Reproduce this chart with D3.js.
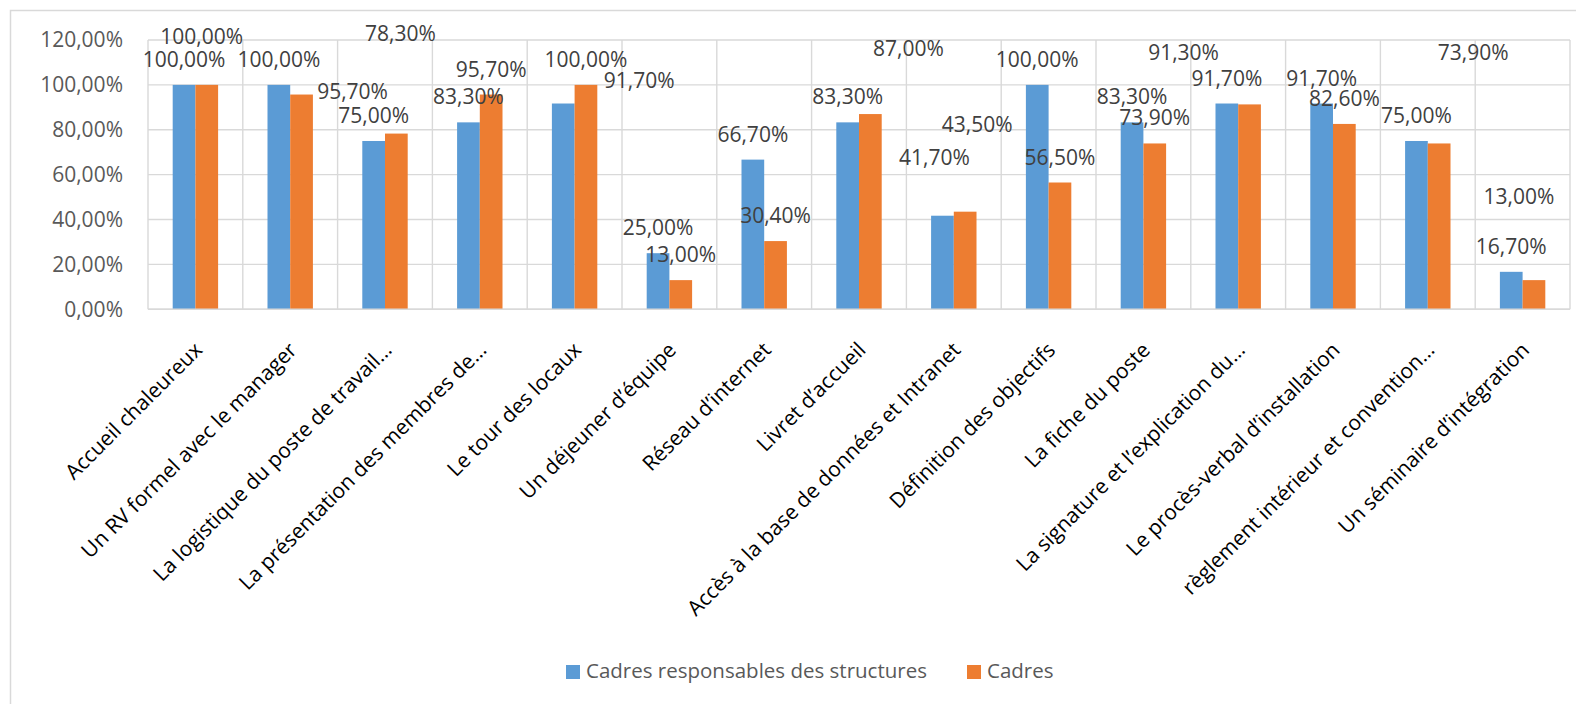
<!DOCTYPE html>
<html>
<head>
<meta charset="utf-8">
<script src="https://cdn.jsdelivr.net/npm/d3@7/dist/d3.min.js"></script>
<style>
  html, body { margin: 0; padding: 0; background: #ffffff; }
  svg { display: block; }
</style>
</head>
<body>
<svg id="chart" width="1576" height="704"></svg>
<script>
// ---------- DATA ----------
const categories = [
  "Accueil chaleureux",
  "Un RV formel avec le manager",
  "La logistique du poste de travail…",
  "La présentation des membres de…",
  "Le tour des locaux",
  "Un déjeuner d’équipe",
  "Réseau d’internet",
  "Livret d’accueil",
  "Accès à la base de données et Intranet",
  "Définition des objectifs",
  "La fiche du poste",
  "La signature et l’explication du…",
  "Le procès-verbal d’installation",
  "règlement intérieur et convention…",
  "Un séminaire d’intégration"
];
const seriesNames = ["Cadres responsables des structures", "Cadres"];
const responsables = [100, 100, 75, 83.3, 91.7, 25, 66.7, 83.3, 41.7, 100, 83.3, 91.7, 91.7, 75, 16.7];
const cadres = [100, 95.7, 78.3, 95.7, 100, 13, 30.4, 87, 43.5, 56.5, 73.9, 91.3, 82.6, 73.9, 13];
const yTicks = [0, 20, 40, 60, 80, 100, 120];

// manual data-label displacements (pixels, relative to default label spot above each bar)
const labelShiftResp = [[0,0],[0,0],[0,0],[0,0],[76,2],[0,0],[0,0],[0,0],[-8,-33],[0,0],[0,0],[0,0],[0,0],[0,0],[0,0]];
const labelShiftCadres = [[-5,-23],[51,22],[4,-75],[0,0],[0,0],[0,0],[0,0],[38,-40],[12,-62],[0,0],[0,0],[-66,-26],[0,0],[34,-65],[-15,-58]];

// ---------- LAYOUT ----------
const colors = ["#5B9BD5", "#ED7D31"];
const plot = { left: 148, right: 1570, top: 40, bottom: 309.3 };
const FONT = "'Open Sans', 'Liberation Sans', Arial, sans-serif";

const svg = d3.select("#chart");

// outer chart border (only left/top visible within the frame)
svg.append("rect")
  .attr("x", 10.5).attr("y", 10.5)
  .attr("width", 1600).attr("height", 720)
  .attr("fill", "none").attr("stroke", "#d9d9d9").attr("stroke-width", 1.5);

const x0 = d3.scaleBand().domain(categories).range([plot.left, plot.right]).paddingInner(0).paddingOuter(0);
const bw = x0.bandwidth();
const barW = bw * 0.2395;
const x1 = d3.scaleBand().domain([0, 1]).range([bw / 2 - barW, bw / 2 + barW]).padding(0);
const y = d3.scaleLinear().domain([0, 120]).range([plot.bottom, plot.top]);

// horizontal gridlines
svg.append("g").selectAll("line").data(yTicks).join("line")
  .attr("x1", plot.left).attr("x2", plot.right)
  .attr("y1", d => y(d)).attr("y2", d => y(d))
  .attr("stroke", "#d9d9d9").attr("stroke-width", 1.4);

// vertical gridlines at category boundaries
const bounds = categories.map(c => x0(c)).concat([plot.right]);
svg.append("g").selectAll("line").data(bounds).join("line")
  .attr("x1", d => d).attr("x2", d => d)
  .attr("y1", plot.top).attr("y2", plot.bottom)
  .attr("stroke", "#d9d9d9").attr("stroke-width", 1.4);

// y axis labels
const yAxis = d3.axisLeft(y).tickValues(yTicks)
  .tickFormat(d => d3.format(".2f")(d).replace(".", ",") + "%")
  .tickSize(0).tickPadding(25);
const yg = svg.append("g").attr("transform", `translate(${plot.left},0)`).call(yAxis);
yg.select(".domain").remove();
yg.selectAll("text").attr("fill", "#595959").style("font-family", FONT).style("font-size", "21px");

// bars
const series = [responsables, cadres];
const groups = svg.append("g").selectAll("g").data(series).join("g")
  .attr("fill", (d, i) => colors[i]);
groups.each(function (vals, si) {
  d3.select(this).selectAll("rect").data(vals).join("rect")
    .attr("x", (v, i) => x0(categories[i]) + x1(si))
    .attr("width", x1.bandwidth())
    .attr("y", v => y(v))
    .attr("height", v => y(0) - y(v));
});

// bottom axis line
svg.append("line")
  .attr("x1", plot.left).attr("x2", plot.right)
  .attr("y1", plot.bottom).attr("y2", plot.bottom)
  .attr("stroke", "#d9d9d9").attr("stroke-width", 1.6);

// data labels
const fmt = v => d3.format(".2f")(v).replace(".", ",") + "%";
const shifts = [labelShiftResp, labelShiftCadres];
const lg = svg.append("g");
series.forEach((vals, si) => {
  lg.selectAll(null).data(vals).join("text")
    .attr("x", (v, i) => x0(categories[i]) + x1(si) + x1.bandwidth() / 2 + shifts[si][i][0])
    .attr("y", (v, i) => y(v) - 26 + shifts[si][i][1])
    .attr("text-anchor", "middle")
    .attr("dominant-baseline", "central")
    .attr("fill", "#404040")
    .style("font-family", FONT).style("font-size", "21px")
    .text(fmt);
});

// category labels
svg.append("g").selectAll("text").data(categories).join("text")
  .attr("transform", d => `translate(${x0(d) + bw / 2 + 8},${plot.bottom + 42}) rotate(-45)`)
  .attr("text-anchor", "end")
  .attr("fill", "#000000")
  .style("font-family", FONT).style("font-size", "21px")
  .text(d => d);

// legend
const legendItems = [
  { name: seriesNames[0], color: colors[0], x: 566 },
  { name: seriesNames[1], color: colors[1], x: 967 }
];
const leg = svg.append("g").selectAll("g").data(legendItems).join("g")
  .attr("transform", d => `translate(${d.x},665)`);
leg.append("rect").attr("width", 14).attr("height", 14).attr("fill", d => d.color);
leg.append("text").attr("x", 20).attr("y", 13)
  .attr("fill", "#595959")
  .style("font-family", FONT).style("font-size", "20.5px")
  .text(d => d.name);
</script>
</body>
</html>
